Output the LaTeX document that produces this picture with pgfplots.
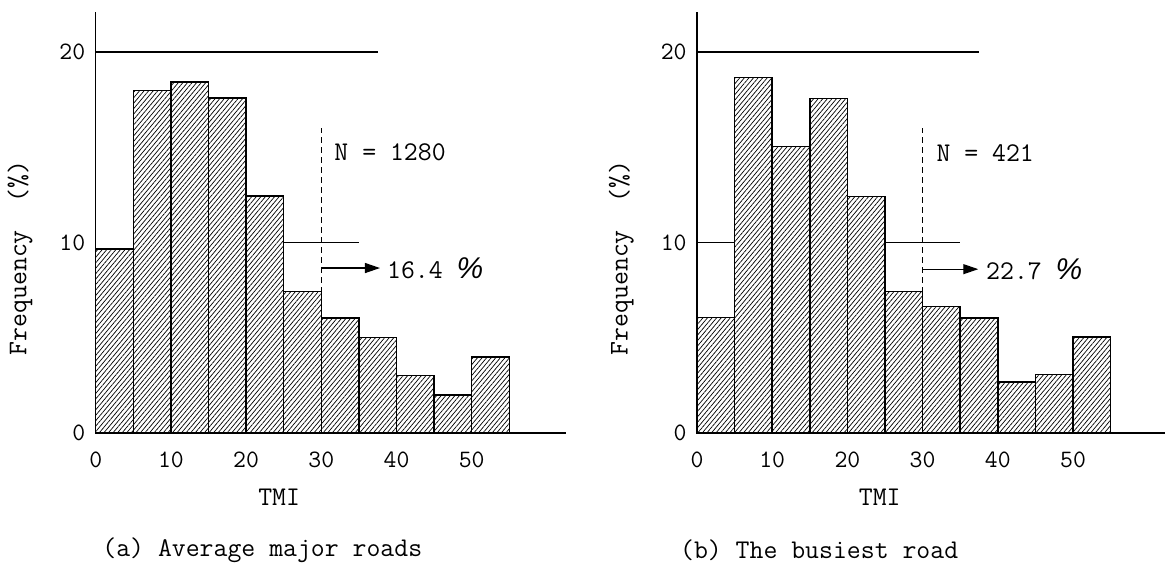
\documentclass[border=0pt]{standalone}
\usepackage{fontspec}
\newfontfamily\pctfont{Liberation Sans}
\usepackage{pgfplots}
\pgfplotsset{compat=1.18}
\usetikzlibrary{patterns.meta,arrows.meta}

\tikzset{txt/.style={font=\fontsize{13.5}{15}\selectfont\ttfamily, inner sep=0pt}}
\newcommand{\pct}{{\pctfont\fontsize{15}{15}\selectfont\itshape\%}}
\pgfplotsset{
  tmi/.style={
    scale only axis, width=235pt, height=210.5pt,
    xmin=0, xmax=62.5, ymin=0, ymax=22.1,
    anchor=south west, clip=false,
    axis x line=bottom, axis y line=left,
    axis line style={-, line width=0.6pt},
    xtick={0,10,...,50}, ytick={0,10,20},
    major tick length=0pt,
    /pgf/number format/assume math mode=true,
    tick label style={font=\fontsize{12.5}{14}\selectfont\ttfamily},
    xticklabel style={yshift=-6pt},
    yticklabel style={xshift=-1.7pt},
  },
  hatch/.style={ybar interval, draw=black, line width=0.75pt,
    preaction={fill=white},
    pattern={Lines[angle=50,distance=1.75pt,line width=0.35pt]}},
}

\begin{document}
\begin{tikzpicture}
\path[use as bounding box] (0,0) rectangle (582.5pt,281pt);

% (a) average major roads
\begin{axis}[tmi, at={(47.85pt,64.5pt)}]
\addplot[black, line width=0.6pt] coordinates {(0,20) (37.5,20)};
\addplot[black, line width=0.6pt] coordinates {(25,10) (35,10)};
\addplot[hatch] coordinates {
  (0,9.66) (5,17.99) (10,18.43) (15,17.59) (20,12.44) (25,7.42)
  (30,6.03) (35,5.01) (40,3.02) (45,1.99) (50,4.0) (55,0)};
\addplot[black, line width=0.5pt, dash pattern=on 3pt off 2pt] coordinates {(30,0) (30,16)};
\addplot[black, line width=0.6pt, -{Triangle[length=7.5pt,width=5pt]}] coordinates {(30,8.66) (37.8,8.66)};
\node[txt, anchor=west] at (axis cs:31.7,14.75) {N = 1280};
\node[txt, anchor=west] at (axis cs:38.7,8.66) {16.4 \pct};
\node[txt] at (axis cs:24.4,-3.36) {TMI};
\node[txt, rotate=90] at (axis cs:-10.07,9.19) {Frequency~~(\%)};
\node[txt, anchor=west] at (axis cs:0.84,-6.14) {(a) Average major roads};
\end{axis}

% (b) the busiest road
\begin{axis}[tmi, at={(348.5pt,64.5pt)}]
\addplot[black, line width=0.6pt] coordinates {(0,20) (37.5,20)};
\addplot[black, line width=0.6pt] coordinates {(0,10) (35,10)};
\addplot[hatch] coordinates {
  (0,6.05) (5,18.65) (10,15.05) (15,17.55) (20,12.41) (25,7.42)
  (30,6.65) (35,6.04) (40,2.68) (45,3.06) (50,5.04) (55,0)};
\addplot[black, line width=0.5pt, dash pattern=on 3pt off 2pt] coordinates {(30,0) (30,16)};
\addplot[black, line width=0.6pt, -{Triangle[length=7.5pt,width=5pt]}] coordinates {(30,8.6) (37.4,8.6)};
\node[txt, anchor=west] at (axis cs:31.8,14.7) {N = 421};
\node[txt, anchor=west] at (axis cs:38.4,8.6) {22.7 \pct};
\node[txt] at (axis cs:24.3,-3.36) {TMI};
\node[txt, rotate=90] at (axis cs:-10.07,9.19) {Frequency~~(\%)};
\node[txt, anchor=west] at (axis cs:-2.3,-6.14) {(b) The busiest road};
\end{axis}
\end{tikzpicture}
\end{document}
